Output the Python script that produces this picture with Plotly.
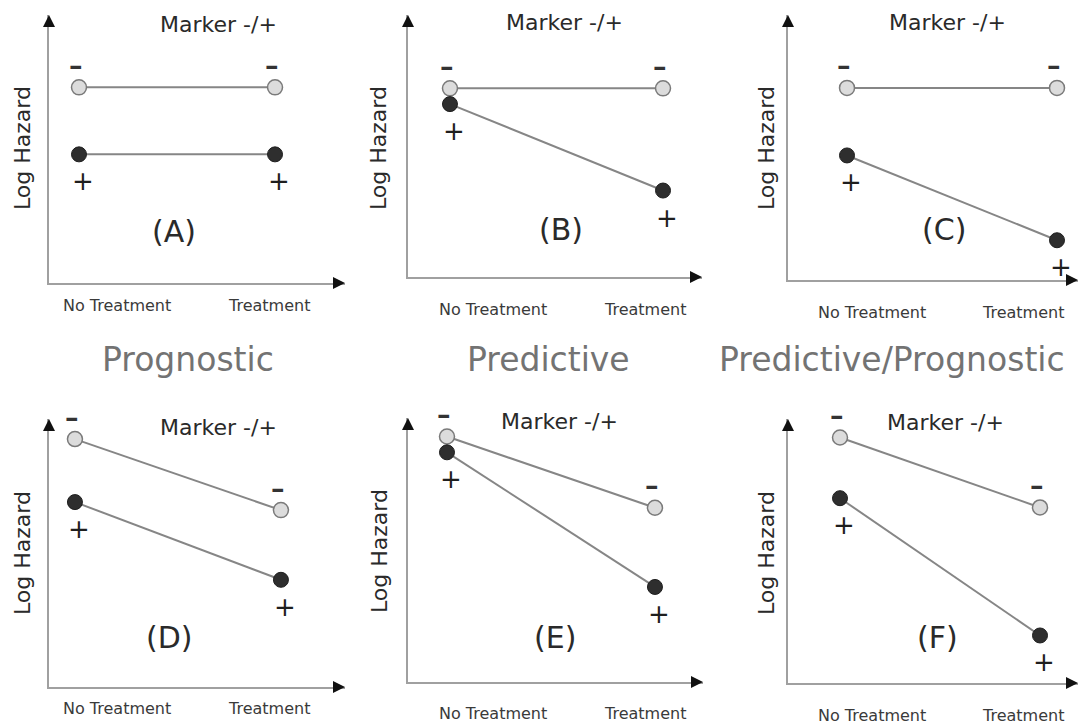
import plotly.graph_objects as go

# ---------------- data ----------------
treatments = ["No Treatment", "Treatment"]
panel_letters = ["(A)", "(B)", "(C)", "(D)", "(E)", "(F)"]
row_titles = ["Prognostic", "Predictive", "Predictive/Prognostic"]
marker_title = "Marker -/+"
y_title = "Log Hazard"
neg_label = "–"
pos_label = "+"

# log hazard (arbitrary units: 0 = x axis, 10 = top of y axis), [No Treatment, Treatment]
marker_neg = [
    [7.3, 7.3],    # A
    [7.2, 7.2],    # B
    [7.25, 7.25],  # C
    [9.25, 6.6],   # D
    [9.3, 6.6],    # E
    [9.3, 6.65],   # F
]
marker_pos = [
    [4.8, 4.8],    # A
    [6.6, 3.3],    # B
    [4.7, 1.5],    # C
    [6.9, 4.0],    # D
    [8.7, 3.6],    # E
    [7.0, 1.8],    # F
]

# ---------------- layout spec (pixels) ----------------
W, H = 1081, 727
FONT = "DejaVu Sans"
panels = [
    dict(box=(49, 345, 15, 283), xr=(-0.153, 1.357), ticks=(117, 269), tick_y=305,
         ylab=(22, 148), mt=(218, 25), let=(174, 232)),
    dict(box=(408, 702, 15, 277), xr=(-0.197, 1.183), ticks=(493, 645), tick_y=310,
         ylab=(378, 148), mt=(564, 23), let=(561, 229)),
    dict(box=(788, 1078, 15, 280), xr=(-0.281, 1.10), ticks=(872, 1023), tick_y=312,
         ylab=(766, 148), mt=(947, 23), let=(944, 229)),
    dict(box=(49, 345, 419, 687), xr=(-0.126, 1.311), ticks=(117, 269), tick_y=708,
         ylab=(22, 553), mt=(218, 428), let=(169, 637)),
    dict(box=(408, 703, 418, 682), xr=(-0.1875, 1.231), ticks=(493, 645), tick_y=713,
         ylab=(379, 551), mt=(559, 421), let=(555, 637)),
    dict(box=(788, 1078, 419, 683), xr=(-0.26, 1.19), ticks=(872, 1023), tick_y=715,
         ylab=(766, 553), mt=(945, 422), let=(937, 637)),
]
row_title_pos = [(188, 360), (548, 360), (892, 360)]


def px(x):
    return x / W


def py(y):
    return 1 - y / H


fig = go.Figure()
annotations = []
layout = dict(
    width=W, height=H, autosize=False,
    margin=dict(l=0, r=0, t=0, b=0, pad=0),
    paper_bgcolor="white", plot_bgcolor="white",
    showlegend=False,
    font=dict(family=FONT, color="#2a2a2a"),
)

for i, p in enumerate(panels):
    n = i + 1
    sfx = "" if n == 1 else str(n)
    xa, ya = "x" + sfx, "y" + sfx
    L, R, T, B = p["box"]
    layout["xaxis" + sfx] = dict(
        domain=[px(L), px(R)], range=list(p["xr"]), type="category",
        anchor=ya, showline=True, linecolor="#a0a0a0", linewidth=2,
        showgrid=False, zeroline=False, showticklabels=False, ticks="",
        fixedrange=True,
    )
    layout["yaxis" + sfx] = dict(
        domain=[py(B), py(T)], range=[0, 10],
        anchor=xa, showline=True, linecolor="#a0a0a0", linewidth=2,
        showgrid=False, zeroline=False, showticklabels=False, ticks="",
        fixedrange=True,
    )

    # marker negative (light)
    fig.add_trace(go.Scatter(
        x=treatments, y=marker_neg[i], xaxis=xa, yaxis=ya, mode="lines+markers",
        line=dict(color="#868686", width=2),
        marker=dict(size=15, color="#dcdcdc", line=dict(color="#7a7a7a", width=1.5)),
        hoverinfo="skip",
    ))
    # marker positive (dark)
    fig.add_trace(go.Scatter(
        x=treatments, y=marker_pos[i], xaxis=xa, yaxis=ya, mode="lines+markers",
        line=dict(color="#868686", width=2),
        marker=dict(size=15, color="#2e2e2e", line=dict(color="#1e1e1e", width=1)),
        hoverinfo="skip",
    ))

    # -/+ labels
    for t, v in zip(treatments, marker_neg[i]):
        annotations.append(dict(
            x=t, y=v, xref=xa, yref=ya, text=neg_label, showarrow=False,
            yshift=22, xshift=-3,
            font=dict(size=27, color="#333333", family=FONT, weight="bold"),
        ))
    for t, v in zip(treatments, marker_pos[i]):
        annotations.append(dict(
            x=t, y=v, xref=xa, yref=ya, text=pos_label, showarrow=False,
            yshift=-27, xshift=4, font=dict(size=26, color="#1e1e1e", family=FONT),
        ))

    # arrow heads
    annotations.append(dict(
        xref=xa + " domain", yref=ya + " domain", x=1, y=0, ax=-9, ay=0,
        text="", showarrow=True, arrowhead=2, arrowsize=1.2, arrowwidth=2,
        arrowcolor="#111111", standoff=0,
    ))
    annotations.append(dict(
        xref=xa + " domain", yref=ya + " domain", x=0, y=1, ax=0, ay=9,
        text="", showarrow=True, arrowhead=2, arrowsize=1.2, arrowwidth=2,
        arrowcolor="#111111", standoff=0,
    ))

    # tick labels
    for t, tx in zip(treatments, p["ticks"]):
        annotations.append(dict(
            x=px(tx), y=py(p["tick_y"]), xref="paper", yref="paper", text=t,
            showarrow=False, xanchor="center", yanchor="middle",
            font=dict(size=16, color="#3a3a3a", family=FONT),
        ))
    # y title
    annotations.append(dict(
        x=px(p["ylab"][0]), y=py(p["ylab"][1]), xref="paper", yref="paper",
        text=y_title, textangle=-90, showarrow=False, xanchor="center", yanchor="middle",
        font=dict(size=22, color="#2a2a2a", family=FONT),
    ))
    # Marker -/+
    annotations.append(dict(
        x=px(p["mt"][0]), y=py(p["mt"][1]), xref="paper", yref="paper",
        text=marker_title, showarrow=False, xanchor="center", yanchor="middle",
        font=dict(size=22, color="#2a2a2a", family=FONT),
    ))
    # panel letter
    annotations.append(dict(
        x=px(p["let"][0]), y=py(p["let"][1]), xref="paper", yref="paper",
        text=panel_letters[i], showarrow=False, xanchor="center", yanchor="middle",
        font=dict(size=30, color="#2a2a2a", family=FONT),
    ))

for t, (tx, ty) in zip(row_titles, row_title_pos):
    annotations.append(dict(
        x=px(tx), y=py(ty), xref="paper", yref="paper", text=t, showarrow=False,
        xanchor="center", yanchor="middle",
        font=dict(size=33, color="#737373", family=FONT),
    ))

layout["annotations"] = annotations
fig.update_layout(**layout)

fig.write_html(
    "out.html",
    config={"displayModeBar": False, "staticPlot": True},
    post_script="document.body.style.margin='0';document.body.style.overflow='hidden';",
)
